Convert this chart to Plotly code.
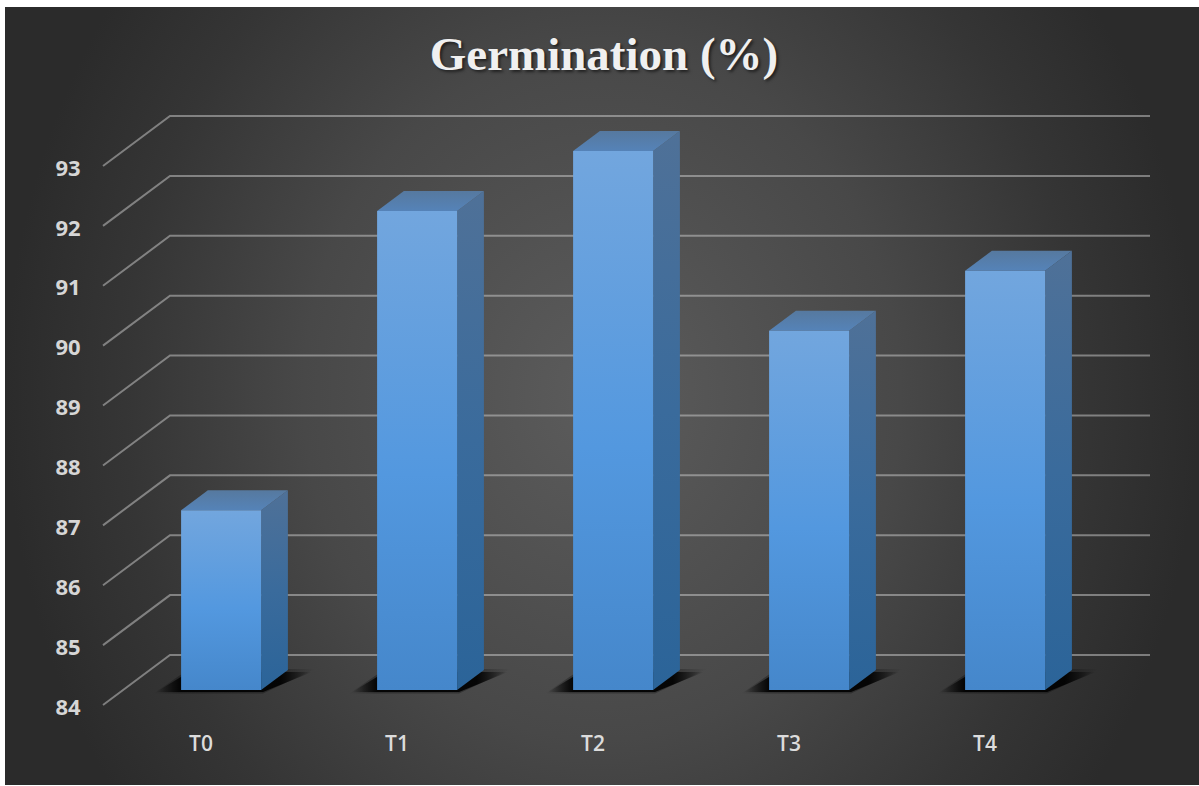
import plotly.graph_objects as go

CATEGORIES = ["T0", "T1", "T2", "T3", "T4"]
GERMINATION = [87, 92, 93, 90, 91]
Y_TICKS = [84, 85, 86, 87, 88, 89, 90, 91, 92, 93]
TITLE = "Germination (%)"

# Axis frame in pixels; tick labels sit on this rectangle.
WIDTH, HEIGHT = 1199, 786
LEFT, RIGHT, TOP, BOTTOM = 103, 1083, 166, 705
LABEL_DROP = 2
Y_MIN, Y_MAX = Y_TICKS[0], Y_TICKS[-1]
X_UNIT = (RIGHT - LEFT) / len(CATEGORIES)
Y_UNIT = (BOTTOM - TOP) / (Y_MAX - Y_MIN)

# Oblique projection of the chart's depth axis, in pixels at full depth.
DEPTH_DX, DEPTH_DY = 67 / X_UNIT, 50 / Y_UNIT
WALL_END = 1150
BAR_WIDTH = 80 / X_UNIT
BAR_NEAR, BAR_FAR = 0.3, 0.7

# Panel edges and the height of its light ellipse, in pixels.
PANEL_LEFT, PANEL_TOP, PANEL_BOTTOM = 5, 7, 785
GLOW_CENTRE, GLOW_RADIUS = 395, 690


def to_x(px):
    return -0.5 + (px - LEFT) / X_UNIT


def to_y(py):
    return Y_MIN + (BOTTOM - py) / Y_UNIT


def projected(x, y, depth):
    return x + DEPTH_DX * depth, y + DEPTH_DY * depth


def polygon(points, **kwargs):
    xs, ys = zip(*points)
    return go.Scatter(
        x=list(xs) + [xs[0]], y=list(ys) + [ys[0]], mode="lines", fill="toself",
        line=dict(width=0), hoverinfo="skip", showlegend=False, **kwargs
    )


traces = []

# Panel behind everything, with a soft light in the middle.
glow_top, glow_bottom = to_y(GLOW_CENTRE - GLOW_RADIUS), to_y(GLOW_CENTRE + GLOW_RADIUS)
traces.append(polygon(
    [(to_x(PANEL_LEFT), glow_top), (to_x(WIDTH), glow_top), (to_x(WIDTH), glow_bottom), (to_x(PANEL_LEFT), glow_bottom)],
    fillcolor="#3c3c3c",
    fillgradient=dict(type="radial", colorscale=[[0, "#5c5c5c"], [0.5, "#484848"], [0.8, "#353535"], [1, "#2b2b2b"]]),
))

# Gridlines: up the side wall, then along the back wall.
for tick in Y_TICKS:
    back_x, back_y = projected(-0.5, tick, 1)
    traces.append(go.Scatter(
        x=[-0.5, back_x, to_x(WALL_END)], y=[tick, back_y, back_y], mode="lines",
        line=dict(color="rgba(205,205,205,0.5)", width=2),
        hoverinfo="skip", showlegend=False,
    ))

for i, value in enumerate(GERMINATION):
    x0, x1 = i - BAR_WIDTH / 2, i + BAR_WIDTH / 2
    nl = projected(x0, Y_MIN, BAR_NEAR)
    nr = projected(x1, Y_MIN, BAR_NEAR)
    fr = projected(x1, Y_MIN, BAR_FAR)
    tnl = projected(x0, value, BAR_NEAR)
    tnr = projected(x1, value, BAR_NEAR)
    tfl = projected(x0, value, BAR_FAR)
    tfr = projected(x1, value, BAR_FAR)

    # Floor shadow: a faint wide layer under a darker core, both fading sideways.
    for grow, alpha in ((3, 0.3), (0, 0.9)):
        sh_low = nl[1] - (2 + grow * 0.5) / Y_UNIT
        sh_high = fr[1] + (grow - 2) / Y_UNIT
        sh_a = nl[0] - (25 + grow) / X_UNIT
        sh_b = fr[0] + (24 + grow) / X_UNIT
        traces.append(polygon(
            [(sh_a, sh_low), (nr[0] + 2 / X_UNIT, sh_low), (sh_b, sh_high), (nl[0] + 8 / X_UNIT, sh_high)],
            fillcolor="#000000",
            fillgradient=dict(
                type="horizontal", start=sh_a, stop=sh_b,
                colorscale=[[0, "rgba(0,0,0,0)"], [0.16, f"rgba(0,0,0,{alpha})"],
                            [0.8, f"rgba(0,0,0,{alpha})"], [1, "rgba(0,0,0,0)"]],
            ),
        ))
    # Right side of the column.
    traces.append(polygon(
        [tnr, tfr, fr, nr], fillcolor="#3a6a9a",
        fillgradient=dict(type="vertical", start=tfr[1], stop=nr[1],
                          colorscale=[[0, "#4f7198"], [0.5, "#3a6b9c"], [1, "#2b6499"]]),
    ))
    # Top of the column.
    traces.append(polygon(
        [tnl, tnr, tfr, tfl], fillcolor="#5680ae",
        fillgradient=dict(type="vertical", start=tfr[1], stop=tnl[1],
                          colorscale=[[0, "#56799f"], [1, "#5583b8"]]),
    ))
    # Front of the column, carrying the value itself.
    traces.append(polygon(
        [nl, nr, tnr, tnl], fillcolor="#5599dd",
        fillgradient=dict(type="vertical", start=tnl[1], stop=nl[1],
                          colorscale=[[0, "#72a6de"], [0.55, "#5398df"], [1, "#4587cb"]]),
    ))

# Invisible points that keep the labelled axes on the page, above the drawing.
traces.append(go.Scatter(
    x=list(range(len(CATEGORIES))), y=GERMINATION, xaxis="x2", yaxis="y2", mode="markers",
    marker=dict(opacity=0), hoverinfo="skip", showlegend=False,
))

fig = go.Figure(traces)
fig.update_layout(
    width=WIDTH, height=HEIGHT,
    margin=dict(l=0, r=0, t=0, b=0, pad=0, autoexpand=False),
    paper_bgcolor="#ffffff", plot_bgcolor="rgba(0,0,0,0)",
    showlegend=False,
    title=dict(
        text=f"<b>{TITLE}</b>", x=604 / WIDTH, xanchor="center", xref="container",
        y=1 - 54 / HEIGHT, yanchor="middle", yref="container",
        font=dict(family="Liberation Serif", size=47, color="#f0f0f0", shadow="2px 2px 3px rgba(0,0,0,0.55)"),
    ),
    # White page strips above and below the panel.
    shapes=[
        dict(type="rect", xref="paper", yref="paper", x0=0, x1=1, y0=1 - PANEL_TOP / HEIGHT, y1=1,
             fillcolor="#ffffff", line=dict(width=0), layer="above"),
        dict(type="rect", xref="paper", yref="paper", x0=0, x1=1, y0=0, y1=1 - PANEL_BOTTOM / HEIGHT,
             fillcolor="#ffffff", line=dict(width=0), layer="above"),
    ],
    # Drawing axes: same scale as the labelled axes, stretched over the whole page.
    xaxis=dict(domain=[0, 1], range=[to_x(0), to_x(WIDTH)], visible=False, automargin=False),
    yaxis=dict(domain=[0, 1], range=[to_y(HEIGHT), to_y(0)], visible=False, automargin=False),
    # Labelled axes.
    xaxis2=dict(
        domain=[LEFT / WIDTH, RIGHT / WIDTH], anchor="y2", automargin=False,
        range=[-0.5, len(CATEGORIES) - 0.5], tickvals=list(range(len(CATEGORIES))), ticktext=CATEGORIES,
        showgrid=False, zeroline=False, showline=False,
        ticks="outside", ticklen=20 - LABEL_DROP, tickcolor="rgba(0,0,0,0)",
        tickfont=dict(family="Open Sans", size=21, color="#dcdcdc", weight=600),
    ),
    yaxis2=dict(
        domain=[1 - (BOTTOM + LABEL_DROP) / HEIGHT, 1 - (TOP + LABEL_DROP) / HEIGHT], anchor="x2", automargin=False,
        range=[Y_MIN, Y_MAX], tickvals=Y_TICKS,
        showgrid=False, zeroline=False, showline=False,
        ticks="outside", ticklen=17, tickcolor="rgba(0,0,0,0)",
        tickfont=dict(family="Noto Sans", size=22, color="#d6d6d6", weight=700),
    ),
)

fig.write_html("out.html", config=dict(displayModeBar=False))
